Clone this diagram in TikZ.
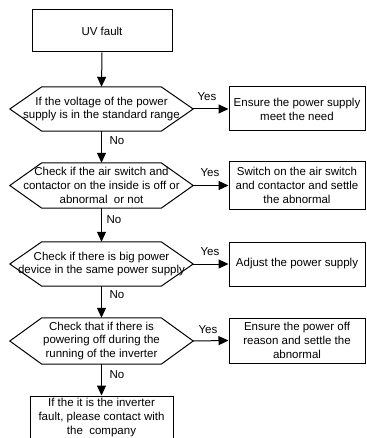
\documentclass[tikz,border=0pt]{standalone}
\usepackage{fontspec}
\setmainfont{Liberation Sans}
\usetikzlibrary{arrows.meta}
\newcommand{\fs}{\fontsize{11.5pt}{13.8pt}\selectfont}
\begin{document}
\begin{tikzpicture}[x=1pt,y=-1pt,
  base/.style={font=\fs, align=center, inner sep=0pt},
  boxn/.style={base, draw, line width=1pt},
  hexn/.style={base, minimum width=183pt, minimum height=44pt},
  hexline/.style={draw, line width=1pt},
  arr/.style={line width=1pt, -{Triangle[width=9pt,length=10pt]}},
  lbl/.style={font=\fs, inner sep=0pt}
]
\useasboundingbox (0,0) rectangle (366,438);
% nodes
\node[boxn, minimum width=140pt, minimum height=42pt] (b1) at (102,31) {UV fault};
\node[hexn] (h1) at (101.5,109) {If the voltage of the power\\supply is in the standard range};
\node[boxn, minimum width=136pt, minimum height=44pt] (r1) at (297,109) {Ensure the power supply\\meet the need};
\node[hexn, minimum height=45pt] (h2) at (101.5,185.5) {Check if the air switch and\\contactor on the inside is off or\\abnormal\ \ or not};
\node[boxn, minimum width=136pt, minimum height=47pt] (r2) at (297,185.5) {Switch on the air switch\\and contactor and settle\\the abnormal};
\node[hexn] (h3) at (101.5,264) {Check if there is big power\\device in the same power supply};
\node[boxn, minimum width=136pt, minimum height=44pt] (r3) at (297,264) {Adjust the power supply};
\node[hexn, minimum height=46pt] (h4) at (101.5,341) {Check that if there is\\powering off during the\\running of the inverter};
\node[boxn, minimum width=136pt, minimum height=45pt] (r4) at (297,340.5) {Ensure the power off\\reason and settle the\\abnormal};
\node[boxn, minimum width=143pt, minimum height=43pt] (b5) at (101.5,417.5) {If the it is the inverter\\fault, please contact with\\the\ \ company};
% hexagon outlines
\foreach \h in {h1,h2,h3,h4}{
  \draw[hexline] (\h.west) -- ([xshift=32pt]\h.north west) -- ([xshift=-32pt]\h.north east) -- (\h.east) -- ([xshift=-32pt]\h.south east) -- ([xshift=32pt]\h.south west) -- cycle;
}
% connectors
\draw[arr] (b1.south) -- (h1.north);
\draw[arr] (h1.south) -- (h2.north);
\draw[arr] (h2.south) -- (h3.north);
\draw[arr] (h3.south) -- (h4.north);
\draw[arr] (h4.south) -- (b5.north);
\draw[arr] (h1.east) -- (r1.west);
\draw[arr] (h2.east) -- (r2.west);
\draw[arr] (h3.east) -- (r3.west);
\draw[arr] (h4.east) -- (r4.west);
% labels
\node[lbl] (y1) at (207,97) {Yes};
\node[lbl] (y2) at (210,173) {Yes};
\node[lbl] (y3) at (210,252) {Yes};
\node[lbl] (y4) at (208,330) {Yes};
\node[lbl] (n1) at (117,141) {No};
\node[lbl] (n2) at (114,220) {No};
\node[lbl] (n3) at (117,295) {No};
\node[lbl] (n4) at (117,375) {No};
\end{tikzpicture}
\end{document}
